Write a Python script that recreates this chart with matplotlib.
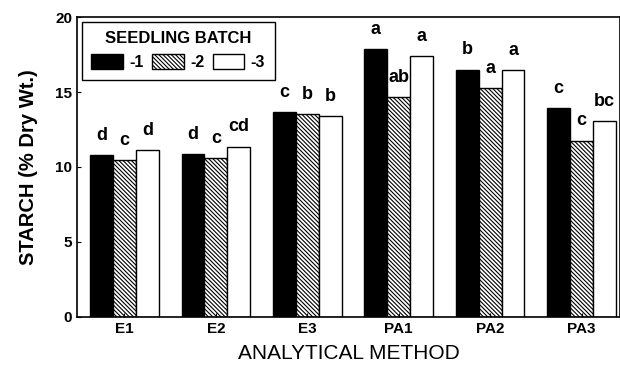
import matplotlib.pyplot as plt
import numpy as np

plt.rcParams['font.family'] = ['Liberation Sans', 'DejaVu Sans']
plt.rcParams['hatch.linewidth'] = 0.8

methods = ["E1", "E2", "E3", "PA1", "PA2", "PA3"]
batch_labels = ["-1", "-2", "-3"]
batch1 = [10.8, 10.85, 13.65, 17.85, 16.5, 13.9]
batch2 = [10.45, 10.6, 13.5, 14.65, 15.25, 11.75]
batch3 = [11.1, 11.35, 13.4, 17.4, 16.45, 13.05]
letters1 = ["d", "d", "c", "a", "b", "c"]
letters2 = ["c", "c", "b", "ab", "a", "c"]
letters3 = ["d", "cd", "b", "a", "a", "bc"]

fig = plt.figure(figsize=(6.2, 3.71), dpi=100)
ax = fig.add_axes([0.124, 0.146, 0.876, 0.808])

x = np.arange(len(methods))
w = 0.25
styles = [dict(color="black", edgecolor="black"),
          dict(color="white", edgecolor="black", hatch="\\\\\\\\\\\\\\\\"),
          dict(color="white", edgecolor="black")]
series = [batch1, batch2, batch3]
letters = [letters1, letters2, letters3]

for i, (vals, st, lab, lets) in enumerate(zip(series, styles, batch_labels, letters)):
    pos = x + (i - 1) * w
    ax.bar(pos, vals, w, linewidth=1.0, label=lab, **st)
    for p, v, t in zip(pos, vals, lets):
        ax.text(p, v + 0.75, t, ha="center", va="bottom",
                fontsize=13, fontweight="bold")

ax.set_xlim(-0.52, 5.42)
ax.set_ylim(0, 20)
ax.set_yticks([0, 5, 10, 15, 20])
ax.set_xticks(x)
ax.set_xticklabels(methods)
ax.tick_params(axis="both", direction="in", length=3, labelsize=11)
for lbl in ax.get_xticklabels() + ax.get_yticklabels():
    lbl.set_fontweight("bold")
for s in ax.spines.values():
    s.set_linewidth(1.2)

ax.set_ylabel("STARCH (% Dry Wt.)", fontsize=14.5, fontweight="bold", labelpad=12)
ax.set_xlabel("ANALYTICAL METHOD", fontsize=15, labelpad=6)

leg = ax.legend(loc="upper left", ncol=3, title="SEEDLING BATCH",
                fancybox=False, edgecolor="black", framealpha=1,
                handlelength=2.0, handleheight=1.0, columnspacing=0.5,
                handletextpad=0.4, prop={"weight": "bold", "size": 11.5},
                borderaxespad=0.3, borderpad=0.6)
leg.get_title().set_fontweight("bold")
leg.get_title().set_fontsize(12)
leg.get_frame().set_linewidth(1.0)

fig.savefig("out.png", dpi=100)
